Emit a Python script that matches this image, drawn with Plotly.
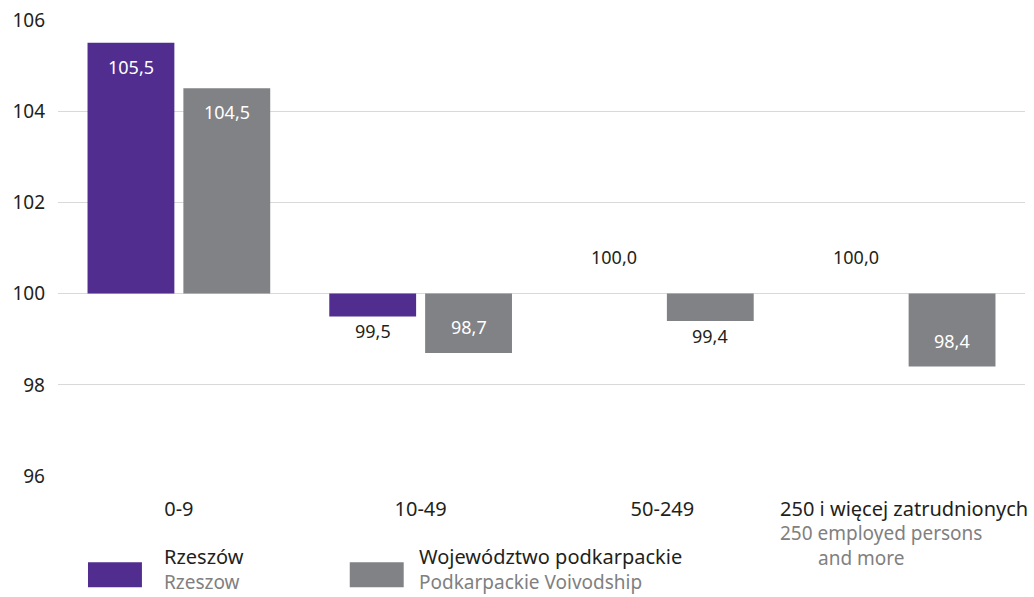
import plotly.graph_objects as go

# Categories (enterprise size by number of employees)
categories = ["0-9", "10-49", "50-249", "250 i więcej zatrudnionych"]
# Index values, base = 100
rzeszow = [105.5, 99.5, 100.0, 100.0]
podkarpackie = [104.5, 98.7, 99.4, 98.4]
y_ticks = [96, 98, 100, 102, 104, 106]

BASE = 100
PURPLE = "#512D8F"
GREY = "#818285"
TEXT = "#231F20"
SUBTEXT = "#808080"
FONT = "Noto Sans"

fig = go.Figure()
for name, vals, color in [("Rzeszów", rzeszow, PURPLE),
                          ("Województwo podkarpackie", podkarpackie, GREY)]:
    fig.add_trace(go.Bar(
        x=categories, y=[v - BASE for v in vals], base=BASE,
        name=name, marker=dict(color=color, line=dict(width=0)),
        showlegend=False, hoverinfo="skip",
    ))


def fmt(v):
    return f"{v:.1f}".replace(".", ",")


# Value labels: inside for tall bars, outside for short ones
SLOT = 48  # half-slot offset of each bar within its group, px
for offset, vals in [(-SLOT, rzeszow), (SLOT, podkarpackie)]:
    for cat, v in zip(categories, vals):
        d = v - BASE
        if abs(d) >= 1:
            color = "white"
            shift = -24 if d > 0 else 26
        elif d < 0:
            color = TEXT
            shift = -15
        else:
            color = TEXT
            shift = 37
        fig.add_annotation(
            x=cat, y=v, xref="x", yref="y", text=fmt(v), showarrow=False,
            xshift=offset, yshift=shift, yanchor="middle",
            font=dict(family=FONT, size=18, color=color),
        )

# English subtitle under the last category (two tightly spaced lines)
for line, y, dx in [("250 employed persons", -0.1225, -126),
                    ("and more", -0.1775, -88)]:
    fig.add_annotation(
        x=categories[-1], xref="x", y=y, yref="paper", text=line,
        showarrow=False, xanchor="left", yanchor="middle", xshift=dx,
        font=dict(family=FONT, size=19, color=SUBTEXT),
    )

# Legend drawn as swatches with bilingual labels
legend_items = [
    (PURPLE, "Rzeszów", "Rzeszow", 0.031, 0.1074),
    (GREY, "Województwo podkarpackie", "Podkarpackie Voivodship", 0.3017, 0.3709),
]
for color, pl, en, x0, tx in legend_items:
    fig.add_shape(type="rect", xref="paper", yref="paper",
                  x0=x0, x1=x0 + 0.0558, y0=-0.2405, y1=-0.186,
                  fillcolor=color, line=dict(width=0))
    fig.add_annotation(x=tx, y=-0.173, xref="paper", yref="paper", text=pl,
                       showarrow=False, xanchor="left", yanchor="middle",
                       font=dict(family=FONT, size=20, color=TEXT))
    fig.add_annotation(x=tx, y=-0.229, xref="paper", yref="paper", text=en,
                       showarrow=False, xanchor="left", yanchor="middle",
                       font=dict(family=FONT, size=19, color=SUBTEXT))

fig.update_layout(
    width=1034, height=597,
    margin=dict(l=58, r=6, t=19, b=120),
    paper_bgcolor="white", plot_bgcolor="white",
    barmode="group", bargap=0.207, bargroupgap=0.094,
    font=dict(family=FONT, color=TEXT),
    xaxis=dict(showgrid=False, showline=False, zeroline=False,
               tickfont=dict(family=FONT, size=20, color=TEXT),
               ticklabelstandoff=18),
    yaxis=dict(range=[95.98, 106.02], tickvals=y_ticks,
               ticktext=[str(t) for t in y_ticks],
               showgrid=True, gridcolor="#D9D9D9", gridwidth=1,
               zeroline=False, showline=False,
               tickfont=dict(family=FONT, size=19, color=TEXT),
               ticklabelstandoff=12),
)

fig.write_html("out.html")
